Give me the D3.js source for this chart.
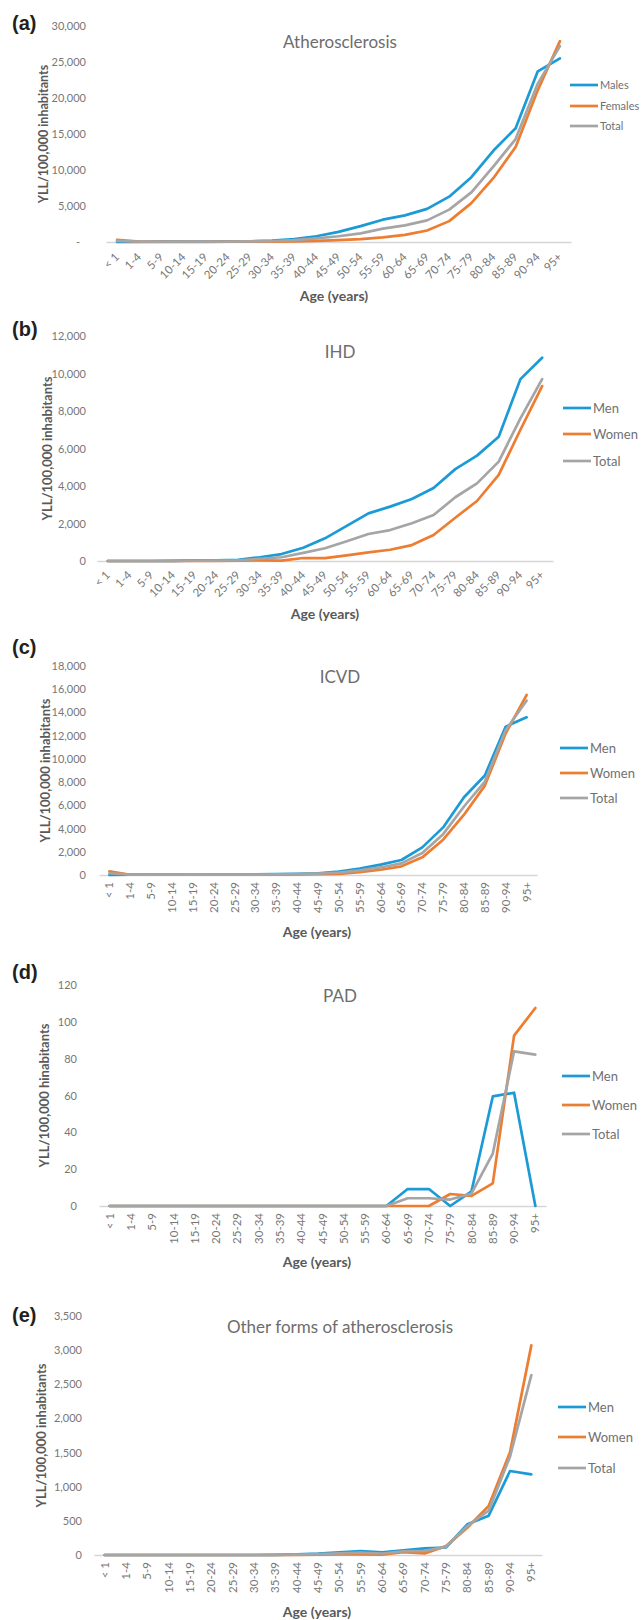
<!DOCTYPE html>
<html>
<head>
<meta charset="utf-8">
<script src="https://cdn.jsdelivr.net/npm/d3@7"></script>
<style>
body { margin: 0; background: #fff; }
</style>
</head>
<body>
<svg id="chart"></svg>
<script>
let age_groups = ["< 1","1-4","5-9","10-14","15-19","20-24","25-29","30-34","35-39","40-44","45-49","50-54","55-59","60-64","65-69","70-74","75-79","80-84","85-89","90-94","95+"]

// (a) Atherosclerosis
let ath_males   = [0, 20, 40, 50, 60, 80, 100, 200, 400, 800, 1400, 2200, 3100, 3700, 4600, 6300, 9000, 12700, 15800, 23700, 25500]
let ath_females = [300, 50, 30, 30, 30, 40, 50, 60, 80, 150, 250, 400, 650, 1000, 1600, 2900, 5400, 8900, 13200, 21100, 27900]
let ath_total   = [150, 40, 35, 40, 50, 60, 80, 130, 250, 500, 800, 1200, 1850, 2300, 3000, 4500, 6900, 10500, 14300, 22000, 27200]

// (b) IHD
let ihd_men   = [0, 0, 0, 10, 30, 40, 60, 200, 370, 710, 1210, 1870, 2540, 2900, 3310, 3890, 4900, 5620, 6630, 9700, 10840]
let ihd_women = [0, 0, 0, 0, 0, 10, 20, 30, 20, 160, 150, 300, 460, 600, 850, 1390, 2310, 3200, 4590, 7000, 9330]
let ihd_total = [0, 0, 0, 5, 15, 25, 40, 120, 200, 430, 680, 1050, 1440, 1650, 2010, 2450, 3400, 4140, 5300, 7610, 9700]

// (c) ICVD
let icvd_men   = [0, 30, 50, 40, 20, 30, 30, 50, 70, 100, 150, 300, 550, 890, 1290, 2380, 4100, 6700, 8570, 12780, 13580]
let icvd_women = [315, 20, 30, 30, 20, 20, 20, 30, 40, 50, 70, 100, 250, 450, 745, 1520, 3040, 5190, 7700, 12200, 15500]
let icvd_total = [150, 25, 40, 35, 20, 25, 25, 40, 55, 75, 110, 200, 400, 650, 1000, 1890, 3520, 5900, 8050, 12490, 15010]

// (d) PAD
let pad_men   = [0, 0, 0, 0, 0, 0, 0, 0, 0, 0, 0, 0, 0, 0, 9.2, 9.2, 0, 8, 59.5, 61.5, 0]
let pad_women = [0, 0, 0, 0, 0, 0, 0, 0, 0, 0, 0, 0, 0, 0, 0, 0, 6.5, 5.5, 12.3, 92.5, 107.5]
let pad_total = [0, 0, 0, 0, 0, 0, 0, 0, 0, 0, 0, 0, 0, 0, 4.2, 4.2, 3.5, 6.8, 28.5, 84, 82.2]

// (e) Other forms of atherosclerosis
let oth_men   = [0, 0, 0, 0, 0, 0, 0, 0, 3, 8, 20, 40, 58, 40, 70, 98, 110, 449, 576, 1230, 1181]
let oth_women = [0, 0, 0, 0, 0, 0, 0, 0, 0, 2, 5, 8, 10, 5, 40, 24, 130, 400, 717, 1503, 3070]
let oth_total = [0, 0, 0, 0, 0, 0, 0, 0, 2, 5, 12, 24, 34, 22, 55, 60, 120, 425, 649, 1440, 2635]

let panel_letters = ["(a)", "(b)", "(c)", "(d)", "(e)"]
let panel_titles = ["Atherosclerosis", "IHD", "ICVD", "PAD", "Other forms of atherosclerosis"]
let y_titles = ["YLL/100,000 inhabitants", "YLL/100,000 inhabitants", "YLL/100,000 inhabitants", "YLL/100,000 hinabitants", "YLL/100,000 inhabitants"]
let legend_a = ["Males", "Females", "Total"]
let legend_b = ["Men", "Women", "Total"]

let ticks_a = [0, 5000, 10000, 15000, 20000, 25000, 30000]
let ticks_b = [0, 2000, 4000, 6000, 8000, 10000, 12000]
let ticks_c = [0, 2000, 4000, 6000, 8000, 10000, 12000, 14000, 16000, 18000]
let ticks_d = [0, 20, 40, 60, 80, 100, 120]
let ticks_e = [0, 500, 1000, 1500, 2000, 2500, 3000, 3500]

let series = [
    [ath_males, ath_females, ath_total],
    [ihd_men, ihd_women, ihd_total],
    [icvd_men, icvd_women, icvd_total],
    [pad_men, pad_women, pad_total],
    [oth_men, oth_women, oth_total]
]
let ticks = [ticks_a, ticks_b, ticks_c, ticks_d, ticks_e]
let legends = [legend_a, legend_b, legend_b, legend_b, legend_b]

// layout of each panel (pixels)
let layout = [
    {x0: 106, x1: 571, top: 26,   bottom: 242,  tickR: 86, titleY: 42,   legX: 570, legY: [85, 106, 126],    legF: 11, rot: 45, off: 13, ageX: 334, ageY: 296,  labY: 23,   ytX: 44, ytF: 12.5},
    {x0: 97,  x1: 553, top: 336,  bottom: 561,  tickR: 86, titleY: 352,  legX: 563, legY: [408, 434, 461],   legF: 13, rot: 45, off: 12, ageX: 325, ageY: 614,  labY: 329,  ytX: 47, ytF: 13},
    {x0: 99,  x1: 537, top: 666,  bottom: 875,  tickR: 86, titleY: 677,  legX: 560, legY: [748, 773, 798],   legF: 13, rot: 90, off: 7,  ageX: 317, ageY: 932,  labY: 647,  ytX: 45, ytF: 13},
    {x0: 99,  x1: 546, top: 985,  bottom: 1206, tickR: 77, titleY: 996,  legX: 562, legY: [1076, 1105, 1134], legF: 13, rot: 90, off: 7,  ageX: 317, ageY: 1262, labY: 972,  ytX: 44, ytF: 13},
    {x0: 94,  x1: 542, top: 1316, bottom: 1555, tickR: 82, titleY: 1327, legX: 558, legY: [1407, 1437, 1468], legF: 13, rot: 90, off: 7,  ageX: 317, ageY: 1612, labY: 1315, ytX: 41, ytF: 13}
]

let colors = ["#1b9ad6", "#ed7d31", "#a5a5a5"]
let font = "Lato, 'Open Sans', sans-serif"

let svg = d3.select('#chart')
    .attr('width', 641)
    .attr('height', 1620)

layout.forEach(function(p, k){
    let g = svg.append('g')

    let x = d3.scaleBand()
        .domain(age_groups)
        .range([p.x0, p.x1])

    let y = d3.scaleLinear()
        .domain([0, d3.max(ticks[k])])
        .range([p.bottom, p.top])

    let fmt = function(d){
        if (k == 0 && d == 0) return "-"
        return d3.format(",")(d)
    }

    // y tick labels, no axis line
    let ya = g.append('g')
        .attr('transform', 'translate(' + p.tickR + ',0)')
        .call(d3.axisLeft(y).tickValues(ticks[k]).tickSize(0).tickPadding(0).tickFormat(fmt))
    ya.select('.domain').remove()
    ya.selectAll('text')
        .attr('fill', '#777')
        .style('font-family', font)
        .style('font-size', '11px')
        .attr('dx', function(d){ return (k == 0 && d == 0) ? -6 : 0 })

    // category axis
    let xa = g.append('g')
        .attr('transform', 'translate(0,' + p.bottom + ')')
        .call(d3.axisBottom(x).tickSize(0).tickSizeOuter(0))
    xa.select('.domain')
        .attr('stroke', '#d6d6d6')
        .attr('stroke-width', 1.3)
    xa.selectAll('text')
        .attr('y', 0)
        .attr('dy', '0.35em')
        .attr('transform', 'translate(0,' + p.off + ') rotate(' + (-p.rot) + ')')
        .style('text-anchor', 'end')
        .style('font-family', font)
        .style('font-size', '11.5px')
        .attr('fill', '#777')

    let line = d3.line()
        .x(function(d, i){ return x(age_groups[i]) + x.bandwidth() / 2 })
        .y(function(d){ return y(d) })

    g.selectAll('path.series')
        .data(series[k])
        .enter()
        .append('path')
        .attr('class', 'series')
        .attr('d', line)
        .attr('fill', 'none')
        .attr('stroke', function(d, i){ return colors[i] })
        .attr('stroke-width', 2.7)
        .attr('stroke-linejoin', 'round')
        .attr('stroke-linecap', 'round')

    // legend
    let leg = g.selectAll('g.leg')
        .data(legends[k])
        .enter()
        .append('g')
        .attr('class', 'leg')
        .attr('transform', function(d, i){ return 'translate(' + p.legX + ',' + p.legY[i] + ')' })
    leg.append('line')
        .attr('x1', 0).attr('x2', 28)
        .attr('stroke', function(d, i){ return colors[i] })
        .attr('stroke-width', 2.7)
    leg.append('text')
        .attr('x', 30)
        .attr('dy', '0.35em')
        .text(function(d){ return d })
        .style('font-family', font)
        .style('font-size', p.legF + 'px')
        .attr('fill', '#707070')

    // chart title
    g.append('text')
        .attr('x', 340)
        .attr('y', p.titleY)
        .attr('dy', '0.35em')
        .attr('text-anchor', 'middle')
        .text(panel_titles[k])
        .style('font-family', font)
        .style('font-size', '17px')
        .attr('fill', '#6d6d6d')

    // axis titles
    g.append('text')
        .attr('transform', 'translate(' + p.ytX + ',' + (p.top + p.bottom) / 2 + ') rotate(-90)')
        .attr('dy', '0.35em')
        .attr('text-anchor', 'middle')
        .text(y_titles[k])
        .style('font-family', font)
        .style('font-size', p.ytF + 'px')
        .style('font-weight', 'bold')
        .attr('fill', '#595959')

    g.append('text')
        .attr('x', p.ageX)
        .attr('y', p.ageY)
        .attr('dy', '0.35em')
        .attr('text-anchor', 'middle')
        .text("Age (years)")
        .style('font-family', font)
        .style('font-size', '14px')
        .style('font-weight', 'bold')
        .attr('fill', '#595959')

    // panel letter
    g.append('text')
        .attr('x', 12)
        .attr('y', p.labY)
        .attr('dy', '0.35em')
        .text(panel_letters[k])
        .style('font-family', "'Liberation Sans', Arial, sans-serif")
        .style('font-size', '20px')
        .style('font-weight', 'bold')
        .attr('fill', '#231f20')
})
</script>
</body>
</html>
